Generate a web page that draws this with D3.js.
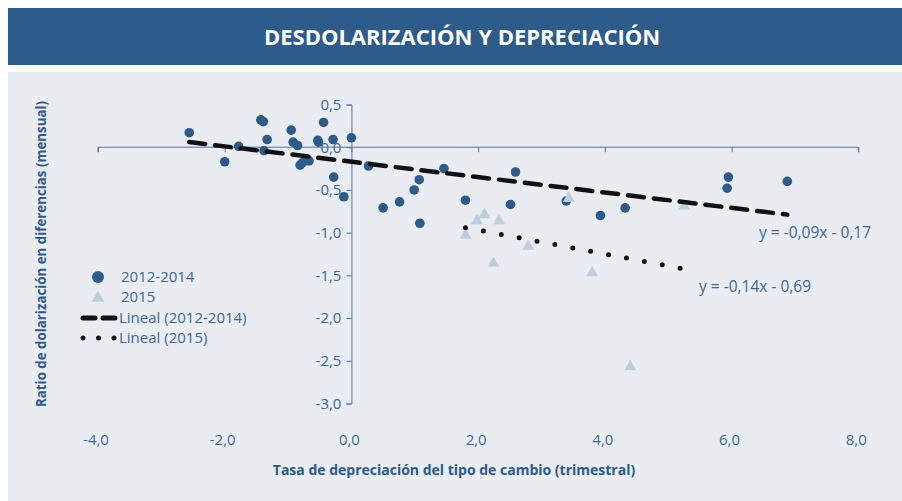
<!DOCTYPE html>
<html>
<head>
<meta charset="utf-8">
<script src="https://cdn.jsdelivr.net/npm/d3@7"></script>
<style>
  body { margin: 0; background: #fff; }
  svg { display: block; font-family: "Open Sans", sans-serif; }
</style>
</head>
<body>
<div id="chart"></div>
<script>
// series 2012-2014 (depreciation, dollarization ratio)
let serieA_x = [-2.56, -2.00, -1.78, -1.43, -1.39, -1.33, -1.38, -0.95, -0.92, -0.85, -0.81, -0.77,
  -0.67, -0.44, -0.53, -0.52, -0.29, -0.28, -0.12, 0.00, 0.27, 0.50, 0.76, 0.99, 1.07, 1.08,
  1.46, 1.80, 2.59, 2.51, 3.39, 3.93, 4.32, 5.95, 5.93, 6.88];
let serieA_y = [0.17, -0.17, 0.01, 0.32, 0.30, 0.09, -0.04, 0.20, 0.06, 0.02, -0.21, -0.18,
  -0.16, 0.29, 0.08, 0.06, 0.09, -0.35, -0.58, 0.11, -0.22, -0.71, -0.64, -0.50, -0.38, -0.89,
  -0.25, -0.62, -0.29, -0.67, -0.63, -0.80, -0.71, -0.35, -0.48, -0.40];
// series 2015
let serieB_x = [1.80, 1.98, 2.10, 2.33, 2.24, 2.79, 3.43, 3.80, 4.40, 5.25];
let serieB_y = [-1.03, -0.86, -0.79, -0.86, -1.36, -1.16, -0.60, -1.47, -2.57, -0.69];

// trend lines: slope, intercept
let trendA = [-0.09, -0.17];
let trendB = [-0.14, -0.69];
let trendLabels = ["y = -0,09x - 0,17", "y = -0,14x - 0,69"];

let xTicks = [-4, -2, 0, 2, 4, 6, 8];
let yTicks = [0.5, 0, -0.5, -1, -1.5, -2, -2.5, -3];
let legendLabels = ["2012-2014", "2015", "Lineal (2012-2014)", "Lineal (2015)"];

let W = 902, H = 501;
let darkBlue = "#2d5b8a", lightTri = "#bfcddc", textBlue = "#3d6898", axisBlue = "#4f76a2";

let svg = d3.select("#chart").append("svg").attr("width", W).attr("height", H);

// title band and panel
svg.append("rect").attr("x", 8).attr("y", 8).attr("width", W - 8).attr("height", 57).attr("fill", darkBlue);
svg.append("text").attr("x", 462).attr("y", 45).attr("text-anchor", "middle")
  .attr("fill", "#fff").attr("font-size", 22).attr("font-weight", "bold")
  .text("DESDOLARIZACIÓN Y DEPRECIACIÓN");
svg.append("rect").attr("x", 8).attr("y", 72).attr("width", W - 8).attr("height", H - 72).attr("fill", "#e9ecf1");

let x = d3.scaleLinear().domain([-4, 8]).range([98, 858.3]);
let y = d3.scaleLinear().domain([-3, 0.5]).range([403.5, 104.5]);

// x axis along y = 0, labels at bottom
let xAxisG = svg.append("g").attr("transform", "translate(0," + y(0) + ")")
  .call(d3.axisBottom(x).tickValues(xTicks).tickSize(5).tickFormat(""));
xAxisG.select(".domain").attr("stroke", axisBlue).attr("d", "M" + x(-4) + ",5V0H" + x(8) + "V5");
xAxisG.selectAll("line").attr("stroke", axisBlue);

let fmt = function(d) { return d3.format(".1f")(d).replace(".", ",").replace("−", "-"); };
svg.append("g").selectAll("text").data(xTicks).enter().append("text")
  .attr("x", function(d) { return x(d) - 2; }).attr("y", 445)
  .attr("text-anchor", "middle").attr("fill", textBlue).attr("font-size", 15)
  .text(fmt);

// y axis along x = 0
let yAxisG = svg.append("g").attr("transform", "translate(" + x(0) + ",0)")
  .call(d3.axisLeft(y).tickValues(yTicks).tickSize(5).tickPadding(5).tickFormat(fmt));
yAxisG.select(".domain").attr("stroke", axisBlue);
yAxisG.selectAll("line").attr("stroke", axisBlue);
yAxisG.selectAll("text").attr("fill", textBlue).attr("font-size", 15)
  .attr("font-family", "'Open Sans', sans-serif");

// axis titles
svg.append("text").attr("x", 454).attr("y", 475).attr("text-anchor", "middle")
  .attr("fill", darkBlue).attr("font-size", 14).attr("font-weight", "bold")
  .text("Tasa de depreciación del tipo de cambio (trimestral)");
svg.append("text").attr("transform", "translate(46,254) rotate(-90)").attr("text-anchor", "middle")
  .attr("fill", darkBlue).attr("font-size", 13.3).attr("font-weight", "bold")
  .text("Ratio de dolarización en diferencias (mensual)");

// points
let tri = d3.symbol().type(d3.symbolTriangle).size(62);
svg.append("g").selectAll("path").data(serieB_x).enter().append("path")
  .attr("d", tri)
  .attr("transform", function(d, i) { return "translate(" + x(d) + "," + y(serieB_y[i]) + ")"; })
  .attr("fill", lightTri);
svg.append("g").selectAll("circle").data(serieA_x).enter().append("circle")
  .attr("cx", function(d) { return x(d); })
  .attr("cy", function(d, i) { return y(serieA_y[i]); })
  .attr("r", 4.8).attr("fill", darkBlue);
// triangle that sits over a circle in the original
svg.append("path").attr("d", tri)
  .attr("transform", "translate(" + x(serieB_x[6]) + "," + y(serieB_y[6]) + ")")
  .attr("fill", lightTri);

// trend lines over the range of each series
function trendPoints(xs, t) {
  let lo = d3.min(xs), hi = d3.max(xs);
  return [[lo, t[0] * lo + t[1]], [hi, t[0] * hi + t[1]]];
}
let line = d3.line().x(function(d) { return x(d[0]); }).y(function(d) { return y(d[1]); });

svg.append("path").datum(trendPoints(serieA_x, trendA)).attr("d", line)
  .attr("fill", "none").attr("stroke", "#111").attr("stroke-width", 4.5)
  .attr("stroke-linecap", "round").attr("stroke-dasharray", "16,10");
svg.append("path").datum(trendPoints(serieB_x, trendB)).attr("d", line)
  .attr("fill", "none").attr("stroke", "#111").attr("stroke-width", 5)
  .attr("stroke-linecap", "round").attr("stroke-dasharray", "0,18.2");

svg.append("text").attr("x", 759).attr("y", 238).attr("fill", textBlue).attr("font-size", 15.5)
  .text(trendLabels[0]);
svg.append("text").attr("x", 699).attr("y", 292).attr("fill", textBlue).attr("font-size", 15.5)
  .text(trendLabels[1]);

// legend
let lg = svg.append("g");
let ly = [277, 297, 318, 338];
lg.append("circle").attr("cx", 98).attr("cy", ly[0]).attr("r", 6).attr("fill", darkBlue);
lg.append("path").attr("d", d3.symbol().type(d3.symbolTriangle).size(70))
  .attr("transform", "translate(98," + (ly[1] + 1) + ")").attr("fill", lightTri);
lg.append("line").attr("x1", 83).attr("x2", 115).attr("y1", ly[2]).attr("y2", ly[2])
  .attr("stroke", "#111").attr("stroke-width", 5).attr("stroke-linecap", "round")
  .attr("stroke-dasharray", "12,8");
lg.append("line").attr("x1", 83).attr("x2", 115).attr("y1", ly[3]).attr("y2", ly[3])
  .attr("stroke", "#111").attr("stroke-width", 5).attr("stroke-linecap", "round")
  .attr("stroke-dasharray", "0,15.5");
lg.selectAll("text").data(legendLabels).enter().append("text")
  .attr("x", function(d, i) { return i < 2 ? 121 : 119; })
  .attr("y", function(d, i) { return ly[i] + 5; })
  .attr("fill", textBlue).attr("font-size", 15)
  .text(function(d) { return d; });
</script>
</body>
</html>
